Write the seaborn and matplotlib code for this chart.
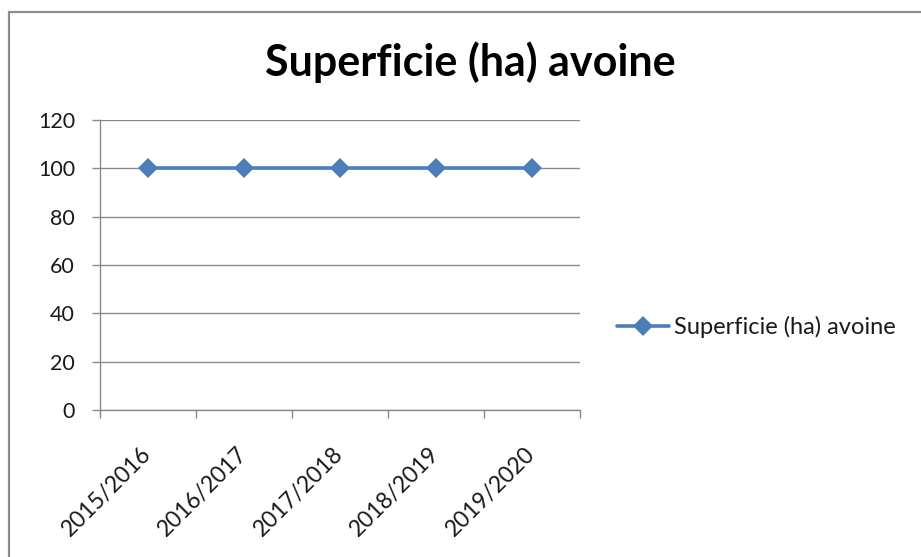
import matplotlib
matplotlib.use("Agg")
import matplotlib.pyplot as plt
from matplotlib.patches import Rectangle
from matplotlib.ticker import MultipleLocator, FixedLocator
import seaborn as sns
import pandas as pd

seasons = ["2015/2016", "2016/2017", "2017/2018", "2018/2019", "2019/2020"]
superficie = [100, 100, 100, 100, 100]
series_name = "Superficie (ha) avoine"
chart_title = "Superficie (ha) avoine"

sns.set_theme(style="white")
plt.rcParams["font.family"] = ["Lato", "DejaVu Sans"]

df = pd.DataFrame({"saison": seasons, "superficie": superficie})

fig = plt.figure(figsize=(9.21, 5.57), dpi=100)
fig.patch.set_facecolor("white")

# chart frame
fig.patches.append(Rectangle((9 / 921, -0.1), 1.2, 1 - 12 / 557 + 0.1,
                             transform=fig.transFigure, fill=False,
                             edgecolor="#8c8c8c", linewidth=1.6))

ax = fig.add_axes([100 / 921, 147 / 557, 480 / 921, 290 / 557])
line_color = "#4a7ebb"
sns.lineplot(data=df, x="saison", y="superficie", ax=ax, color=line_color,
             linewidth=2.6, marker="D", markersize=10, markeredgewidth=0,
             label=series_name, sort=False)

ax.set_xlim(-0.5, len(seasons) - 0.5)
ax.set_ylim(0, 120)
ax.yaxis.set_major_locator(MultipleLocator(20))
ax.grid(axis="y", color="#8a8a8a", linewidth=1)
ax.set_axisbelow(True)
ax.set_xlabel("")
ax.set_ylabel("")

for side in ["top", "right"]:
    ax.spines[side].set_visible(False)
for side in ["left", "bottom"]:
    ax.spines[side].set_color("#8a8a8a")
    ax.spines[side].set_linewidth(1)

# category boundary ticks
ax.xaxis.set_minor_locator(FixedLocator([i - 0.5 for i in range(len(seasons) + 1)]))
ax.tick_params(axis="x", which="minor", length=6, width=1, color="#8a8a8a",
               direction="out", bottom=True)
ax.tick_params(axis="x", which="major", length=0, pad=29, labelsize=16.5,
               labelcolor="#1a1a1a")
ax.tick_params(axis="y", which="major", length=6, width=1, color="#8a8a8a",
               direction="out", left=True, labelsize=15.5,
               labelcolor="#1a1a1a", pad=12)
for lbl in ax.get_xticklabels():
    lbl.set_rotation(45)
    lbl.set_ha("right")
    lbl.set_va("center")
    lbl.set_rotation_mode("anchor")

leg = ax.legend(loc="center left", bbox_to_anchor=(617 / 921, 230 / 557),
                bbox_transform=fig.transFigure, frameon=False, fontsize=17,
                handlelength=2.2, handletextpad=0.2, borderaxespad=0,
                borderpad=0)
for t in leg.get_texts():
    t.set_color("#1a1a1a")

fig.text(470 / 921, 1 - 62 / 557, chart_title, ha="center", va="center",
         fontsize=31, fontweight="bold", color="black")

fig.savefig("out.png", dpi=100, facecolor="white")
